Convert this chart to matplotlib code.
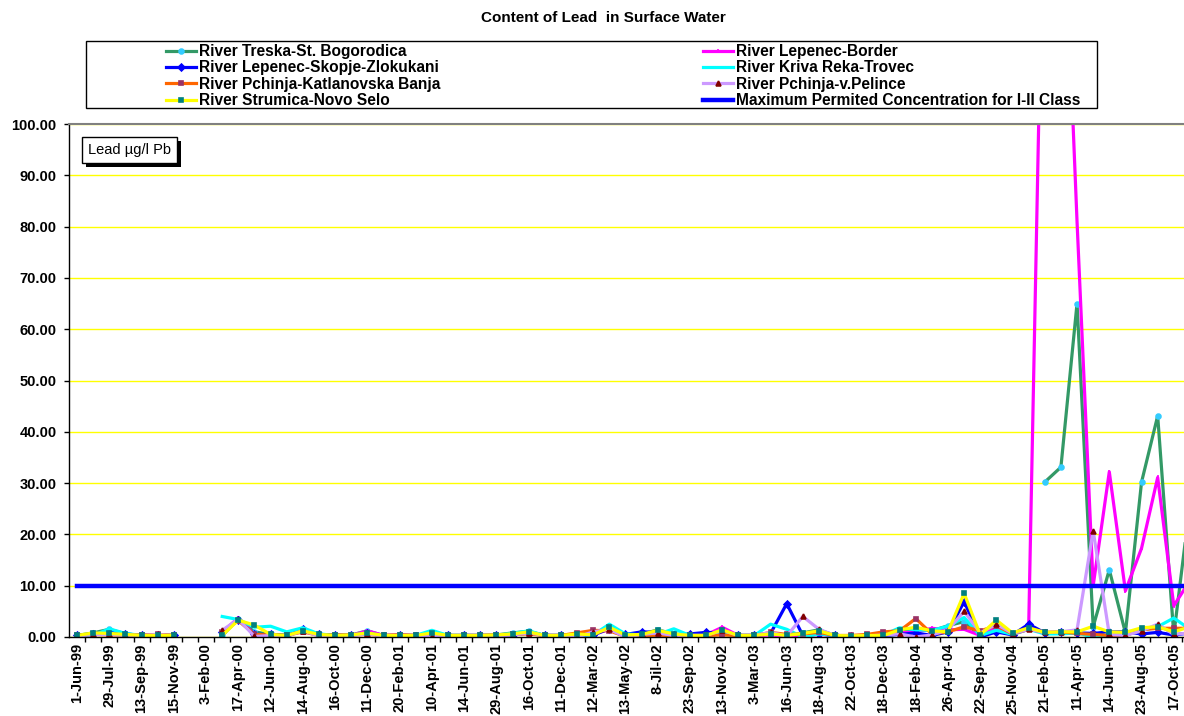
import numpy as np
import matplotlib
matplotlib.use("Agg")
import matplotlib.pyplot as plt
from matplotlib.patches import Rectangle

plt.rcParams['font.family'] = ['Liberation Sans', 'DejaVu Sans']
nan = np.nan

# sampling dates shown on the axis (every second sample is labelled)
date_labels = ['1-Jun-99', '29-Jul-99', '13-Sep-99', '15-Nov-99', '3-Feb-00', '17-Apr-00',
               '12-Jun-00', '14-Aug-00', '16-Oct-00', '11-Dec-00', '20-Feb-01', '10-Apr-01',
               '14-Jun-01', '29-Aug-01', '16-Oct-01', '11-Dec-01', '12-Mar-02', '13-May-02',
               '8-Jil-02', '23-Sep-02', '13-Nov-02', '3-Mar-03', '16-Jun-03', '18-Aug-03',
               '22-Oct-03', '18-Dec-03', '18-Feb-04', '26-Apr-04', '22-Sep-04', '25-Nov-04',
               '21-Feb-05', '11-Apr-05', '14-Jun-05', '23-Aug-05', '17-Oct-05']

# lead, ug/l Pb, one value per sample
treska = [0.3, 0.8, 1.5, 0.6, 0.3, 0.4, 0.3, nan, nan, 0.3,
          3.5, 1.0, 0.5, 0.3, 1.2, 0.4, 0.3, 0.4, 1.2, 0.3,
          0.4, 0.3, 0.8, 0.3, 0.3, 0.3, 0.4, 0.8, 1.1, 0.3,
          0.3, 0.5, 0.4, 2.0, 0.4, 0.5, 1.4, 0.6, 0.3, 0.3,
          1.4, 0.3, 0.3, 0.7, 0.3, 0.8, 1.4, 0.3, 0.2, 0.3,
          0.3, 1.2, 1.5, 1.2, 2.2, 3.0, 0.2, 2.8, 0.6, nan,
          30.2, 33.1, 65.0, 2.0, 13.1, 0.8, 30.2, 43.1, 0.4, 26.0]
lepenec_border = [0.2, 0.5, 0.6, 0.5, 0.3, 0.4, 0.2, nan, nan, 1.0,
                  3.7, 0.5, 0.4, 0.2, 1.3, 0.3, 0.3, 0.3, 1.2, 0.3,
                  0.4, 0.3, 0.6, 0.2, 0.3, 0.3, 0.3, 0.5, 1.0, 0.3,
                  0.3, 0.4, 0.5, 1.5, 0.3, 0.4, 0.5, 0.4, 0.3, 0.4,
                  1.9, 0.3, 0.3, 0.4, 0.1, 0.2, 0.5, 0.3, 0.2, 0.3,
                  0.4, 0.8, 1.0, 1.7, 1.4, 1.5, 0.3, 2.0, 0.5, 1.5,
                  160.0, 158.0, 81.0, 10.0, 32.2, 9.0, 17.3, 31.1, 6.1, 11.0]
lepenec_skopje = [0.3, 0.6, 1.0, 0.6, 0.3, 0.3, 0.3, nan, nan, 1.0,
                  3.3, 0.5, 0.5, 0.3, 1.5, 0.5, 0.4, 0.3, 0.8, 0.2,
                  0.3, 0.2, 0.4, 0.3, 0.3, 0.3, 0.3, 0.4, 0.8, 0.3,
                  0.3, 0.4, 0.4, 1.6, 0.5, 1.0, 0.9, 0.4, 0.6, 0.9,
                  0.8, 0.3, 0.3, 0.7, 6.5, 0.3, 0.6, 0.3, 0.2, 0.2,
                  0.3, 0.5, 0.8, 0.3, 1.0, 6.9, 0.0, 1.0, 0.4, 2.5,
                  0.8, 1.0, 0.8, 0.7, 1.0, 1.0, 0.6, 0.9, 0.4, 0.8]
kriva_reka = [0.1, 0.3, 1.6, 0.7, 0.3, 0.3, 0.2, nan, nan, 4.0,
              3.4, 1.9, 2.1, 1.0, 1.8, 0.6, 0.3, 0.3, 0.8, 0.2,
              0.3, 0.3, 1.3, 0.3, 0.3, 0.3, 0.3, 0.7, 1.2, 0.3,
              0.3, 0.4, 0.4, 2.5, 0.6, 0.4, 0.5, 1.6, 0.3, 0.3,
              0.6, 0.3, 0.3, 2.5, 1.5, 0.0, 0.6, 0.3, 0.2, 0.2,
              0.4, 1.8, 1.4, 1.3, 2.1, 3.8, 0.3, 1.3, 0.5, 1.5,
              0.6, 0.6, 0.8, 0.0, 0.5, 0.4, 1.3, 2.0, 3.7, 1.5]
katlanovska = [0.3, 0.5, 0.4, 0.4, 0.4, 0.5, 0.3, nan, nan, 1.0,
               3.2, 0.5, 0.4, 0.3, 1.0, 0.3, 0.4, 0.4, 0.5, 0.3,
               0.4, 0.3, 0.3, 0.3, 0.3, 0.3, 0.4, 0.5, 0.6, 0.3,
               0.3, 0.8, 1.3, 1.2, 0.1, 0.2, 0.2, 0.3, 0.3, 0.3,
               0.4, 0.3, 0.3, 0.9, 0.5, 0.6, 0.9, 0.3, 0.3, 0.5,
               1.0, 1.2, 3.6, 0.6, 1.0, 2.0, 1.2, 2.2, 0.6, 1.5,
               0.9, 1.0, 0.7, 0.5, 0.3, 0.3, 1.4, 1.7, 1.7, 1.7]
pelince = [0.2, 0.5, 0.5, 0.4, 0.3, 0.5, 0.2, nan, nan, 1.3,
           3.5, 0.1, 0.3, 0.2, 1.2, 0.2, 0.3, 0.3, 0.6, 0.2,
           0.3, 0.2, 0.1, 0.2, 0.3, 0.3, 0.3, 0.4, 0.8, 0.3,
           0.3, 0.0, 1.0, 1.5, 0.0, 0.5, 0.8, 0.3, 0.3, 0.3,
           1.3, 0.3, 0.3, 0.9, 0.2, 4.0, 1.5, 0.3, 0.2, 0.2,
           0.4, 0.6, 0.0, 0.4, 1.4, 5.0, 0.8, 2.5, 0.7, 1.5,
           0.9, 1.0, 1.4, 20.7, 0.5, 0.3, 1.2, 2.5, 0.5, 0.8]
strumica = [0.3, 0.8, 0.7, 0.5, 0.3, 0.3, 0.3, nan, nan, 0.3,
            3.3, 2.3, 0.5, 0.3, 1.2, 0.5, 0.3, 0.4, 0.8, 0.3,
            0.3, 0.3, 0.8, 0.3, 0.3, 0.3, 0.4, 0.6, 1.0, 0.3,
            0.3, 0.6, 0.4, 1.9, 0.4, 0.5, 1.3, 0.6, 0.3, 0.3,
            1.4, 0.3, 0.3, 0.6, 0.3, 0.7, 1.2, 0.3, 0.2, 0.3,
            0.3, 1.4, 1.9, 1.2, 1.0, 8.5, 0.4, 3.3, 0.8, 1.8,
            0.9, 1.0, 1.0, 2.1, 1.0, 0.9, 1.8, 2.0, 1.0, 2.0]
max_permitted = [10.0] * len(treska)

series = [
    ('River Treska-St. Bogorodica', treska, '#339966', 'o', '#33CCFF'),
    ('River Lepenec-Border', lepenec_border, '#FF00FF', '|', '#FF00FF'),
    ('River Lepenec-Skopje-Zlokukani', lepenec_skopje, '#0000FF', 'D', '#0000FF'),
    ('River Kriva Reka-Trovec', kriva_reka, '#00FFFF', 'None', '#00FFFF'),
    ('River Pchinja-Katlanovska Banja', katlanovska, '#FF6600', 's', '#993366'),
    ('River Pchinja-v.Pelince', pelince, '#CC99FF', '^', '#800000'),
    ('River Strumica-Novo Selo', strumica, '#FFFF00', 's', '#008080'),
]

W, H = 1184, 716
fig = plt.figure(figsize=(W / 100, H / 100), dpi=100)
ax = fig.add_axes([69 / W, 79 / H, 1129 / W, 513 / H])

x = np.arange(len(treska))
handles = {}
for name, vals, col, mk, mcol in series:
    ln, = ax.plot(x, vals, color=col, lw=2.3, marker=mk, ms=3.5,
                  mfc=mcol, mec=mcol, mew=1.2)
    handles[name] = ln
ln, = ax.plot(x, max_permitted, color='#0000FF', lw=3.2)
handles['Maximum Permited Concentration for I-II Class'] = ln

ax.set_xlim(-0.5, len(x) - 0.5)
ax.set_ylim(0, 100)
ax.set_yticks(np.arange(0, 101, 10))
ax.yaxis.set_major_formatter(matplotlib.ticker.FormatStrFormatter('%.2f'))
ax.grid(axis='y', color='#FFFF00', lw=1)
ax.set_axisbelow(True)

ax.set_xticks(np.arange(0, len(x), 2))
ax.set_xticklabels(date_labels, rotation=90, fontweight='bold', fontsize=10.5)
ax.set_xticks(np.arange(0.5, len(x), 1), minor=True)
ax.tick_params(axis='x', which='major', length=0, pad=4.5)
ax.tick_params(axis='x', which='minor', length=3.5, width=1, direction='out')
ax.tick_params(axis='y', length=3.5, width=1, pad=5.5, labelsize=10.5)
for lab in ax.get_yticklabels():
    lab.set_fontweight('bold')

ax.spines['right'].set_visible(False)
ax.spines['top'].set_color('#808080')
ax.spines['top'].set_linewidth(1.5)
for s in ('left', 'bottom'):
    ax.spines[s].set_color('black')
    ax.spines[s].set_linewidth(1)

fig.text(603 / W, 1 - 18 / H, 'Content of Lead  in Surface Water',
         ha='center', va='center', fontsize=11, fontweight='bold')

# legend: two columns inside one frame
fig.patches.append(Rectangle((86 / W, 1 - 108 / H), (1097 - 86) / W, 67 / H,
                             transform=fig.transFigure, fill=False,
                             ec='black', lw=1))
names = list(handles)
col1 = [names[0], names[2], names[4], names[6]]
col2 = [names[1], names[3], names[5], names[7]]
for cols, xpos in ((col1, 166), (col2, 703)):
    fig.legend([handles[n] for n in cols], cols, loc='upper left',
               bbox_to_anchor=(xpos / W, 1 - 44 / H), frameon=False,
               borderpad=0, borderaxespad=0, handlelength=1.95,
               handletextpad=0.2, labelspacing=0.09,
               prop={'weight': 'bold', 'size': 11.2})

# unit label box with drop shadow
unit = fig.text(88 / W, 1 - 150 / H, 'Lead µg/l Pb', va='center',
                fontsize=10.5, zorder=5,
                bbox=dict(boxstyle='square,pad=0.4', fc='white', ec='black', lw=1))
fig.canvas.draw()
bb = unit.get_bbox_patch().get_window_extent()
fig.patches.append(Rectangle(((bb.x0 + 4) / W, (bb.y0 - 4) / H), bb.width / W,
                             bb.height / H, transform=fig.transFigure,
                             fc='black', ec='none', zorder=4))

fig.savefig('out.png', dpi=100)
